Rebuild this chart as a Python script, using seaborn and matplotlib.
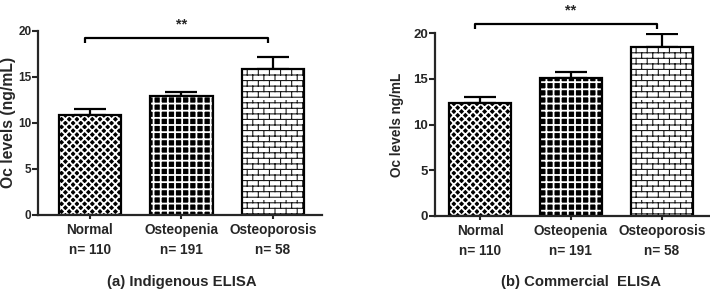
import warnings
import numpy as np
import matplotlib
matplotlib.use('Agg')
import matplotlib.pyplot as plt
import matplotlib.hatch as mhatch
from matplotlib.path import Path
import seaborn as sns

warnings.filterwarnings('ignore')

# data
groups = ['Normal', 'Osteopenia', 'Osteoporosis']
n_sizes = [110, 191, 58]
indig_mean = [10.9, 12.9, 15.85]
indig_sem = [0.65, 0.5, 1.25]
comm_mean = [12.4, 15.1, 18.55]
comm_sem = [0.65, 0.65, 1.35]


# custom hatches: 'd' diamond lattice, 'g' square grid, 'b' brick wall
class DiamondHatch(mhatch.HatchPatternBase):
    def __init__(self, hatch, density):
        self.n = 13 * hatch.count('d')
        self.num_vertices = 2 * (2 * self.n + 1) * 2 if self.n else 0

    def set_vertices_and_codes(self, vertices, codes):
        n = self.n
        i = 0
        for k in range(-n, n + 1):
            vertices[i] = (0, k / n); vertices[i + 1] = (1, 1 + k / n)
            i += 2
        for k in range(0, 2 * n + 1):
            vertices[i] = (0, k / n); vertices[i + 1] = (1, k / n - 1)
            i += 2
        codes[0::2] = Path.MOVETO
        codes[1::2] = Path.LINETO


class GridHatch(mhatch.HatchPatternBase):
    def __init__(self, hatch, density):
        self.n = 14 * hatch.count('g')
        self.num_vertices = 4 * self.n

    def set_vertices_and_codes(self, vertices, codes):
        n = self.n
        i = 0
        for k in range(n):
            c = (k + 0.5) / n
            vertices[i] = (0, c); vertices[i + 1] = (1, c)
            vertices[i + 2] = (c, 0); vertices[i + 3] = (c, 1)
            i += 4
        codes[0::2] = Path.MOVETO
        codes[1::2] = Path.LINETO


class BrickHatch(mhatch.HatchPatternBase):
    rows, cols = 18, 9

    def __init__(self, hatch, density):
        self.on = hatch.count('b') > 0
        self.num_vertices = (2 * self.rows + 2 * self.rows * self.cols) if self.on else 0

    def set_vertices_and_codes(self, vertices, codes):
        R, B = self.rows, self.cols
        i = 0
        for r in range(R):
            y0 = (r + 0.5) / R
            y1 = (r + 1.5) / R
            vertices[i] = (0, y0); vertices[i + 1] = (1, y0)
            i += 2
            for j in range(B):
                x = (j + 0.25 + 0.5 * (r % 2)) / B
                vertices[i] = (x, y0); vertices[i + 1] = (x, min(y1, 1.0))
                i += 2
        codes[0::2] = Path.MOVETO
        codes[1::2] = Path.LINETO


mhatch._hatch_types.extend([DiamondHatch, GridHatch, BrickHatch])

sns.set_style('ticks')
plt.rcParams['font.family'] = ['Liberation Sans', 'DejaVu Sans']
plt.rcParams['font.weight'] = 'bold'

bar_faces = ['black', 'black', 'white']
hatch_cols = ['white', 'white', '#1a1a1a']
hatches = ['d', 'g', 'b']
hatch_lw = [1.3, 1.3, 0.8]

fig = plt.figure(figsize=(7.1, 2.92), dpi=100)
ax1 = fig.add_axes([0.0535, 0.2637, 0.4, 0.6312])
ax2 = fig.add_axes([0.6127, 0.2603, 0.3859, 0.6257])

panels = [
    (ax1, indig_mean, indig_sem, 'Oc levels (ng/mL)', 11.3, -0.078, (-0.568, 2.535), 19.2, 8.5),
    (ax2, comm_mean, comm_sem, 'Oc levels ng/mL', 9.8, -0.112, (-0.495, 2.52), 21.0, 9.5),
]

for ax, means, sems, ylab, ylab_fs, ylab_x, xlim, brk, ytick_fs in panels:
    sns.barplot(x=groups, y=means, ax=ax, width=0.68, color='black', saturation=1,
                errorbar=None, linewidth=0)
    for p, fc, hc, h, hl in zip(ax.patches, bar_faces, hatch_cols, hatches, hatch_lw):
        p.set_facecolor(fc)
        p.set_edgecolor(hc)
        p.set_linewidth(0)
        p.set_hatch(h)
        if hasattr(p, 'set_hatch_linewidth'):
            p.set_hatch_linewidth(hl)
    sns.barplot(x=groups, y=means, ax=ax, width=0.68, fill=False, color='black',
                errorbar=None, linewidth=1.6)

    pos = np.arange(len(groups))
    ax.errorbar(pos, means, yerr=[np.zeros(len(sems)), sems], fmt='none',
                ecolor='black', elinewidth=1.6, capsize=11.5, capthick=1.6, zorder=0.5)

    # significance bracket between Normal and Osteoporosis
    x0, x2 = pos[0] - 0.05, pos[-1] - 0.05
    ax.plot([x0, x0, x2, x2], [brk - 0.5, brk, brk, brk - 0.5], color='black',
            lw=1.6, clip_on=False, solid_capstyle='butt')
    ax.text((x0 + x2) / 2 + 0.05, brk + 0.75, '**', ha='center', va='bottom',
            fontsize=10.5, fontweight='bold', clip_on=False)

    ax.set_ylim(0, 20)
    ax.set_xlim(*xlim)
    ax.set_yticks([0, 5, 10, 15, 20])
    ax.set_xticks(pos)
    ax.set_xticklabels([f'{g}\nn= {n}' for g, n in zip(groups, n_sizes)],
                       linespacing=1.55, fontsize=9.8, fontweight='bold')
    ax.tick_params(axis='y', length=4, width=1.5, pad=0.8, labelsize=ytick_fs)
    ax.tick_params(axis='x', length=3, width=1.5, pad=3)
    ax.set_xlabel('')
    ax.set_ylabel(ylab, fontsize=ylab_fs, fontweight='bold')
    ax.yaxis.set_label_coords(ylab_x, 0.5)
    sns.despine(ax=ax)
    for s in ['left', 'bottom']:
        ax.spines[s].set_linewidth(1.6)

fig.text(0.2563, 0.034, '(a) Indigenous ELISA', ha='center', va='center',
         fontsize=10.7, fontweight='bold')
fig.text(0.818, 0.034, '(b) Commercial  ELISA', ha='center', va='center',
         fontsize=10.7, fontweight='bold')

fig.savefig('out.png', dpi=100, facecolor='white')
